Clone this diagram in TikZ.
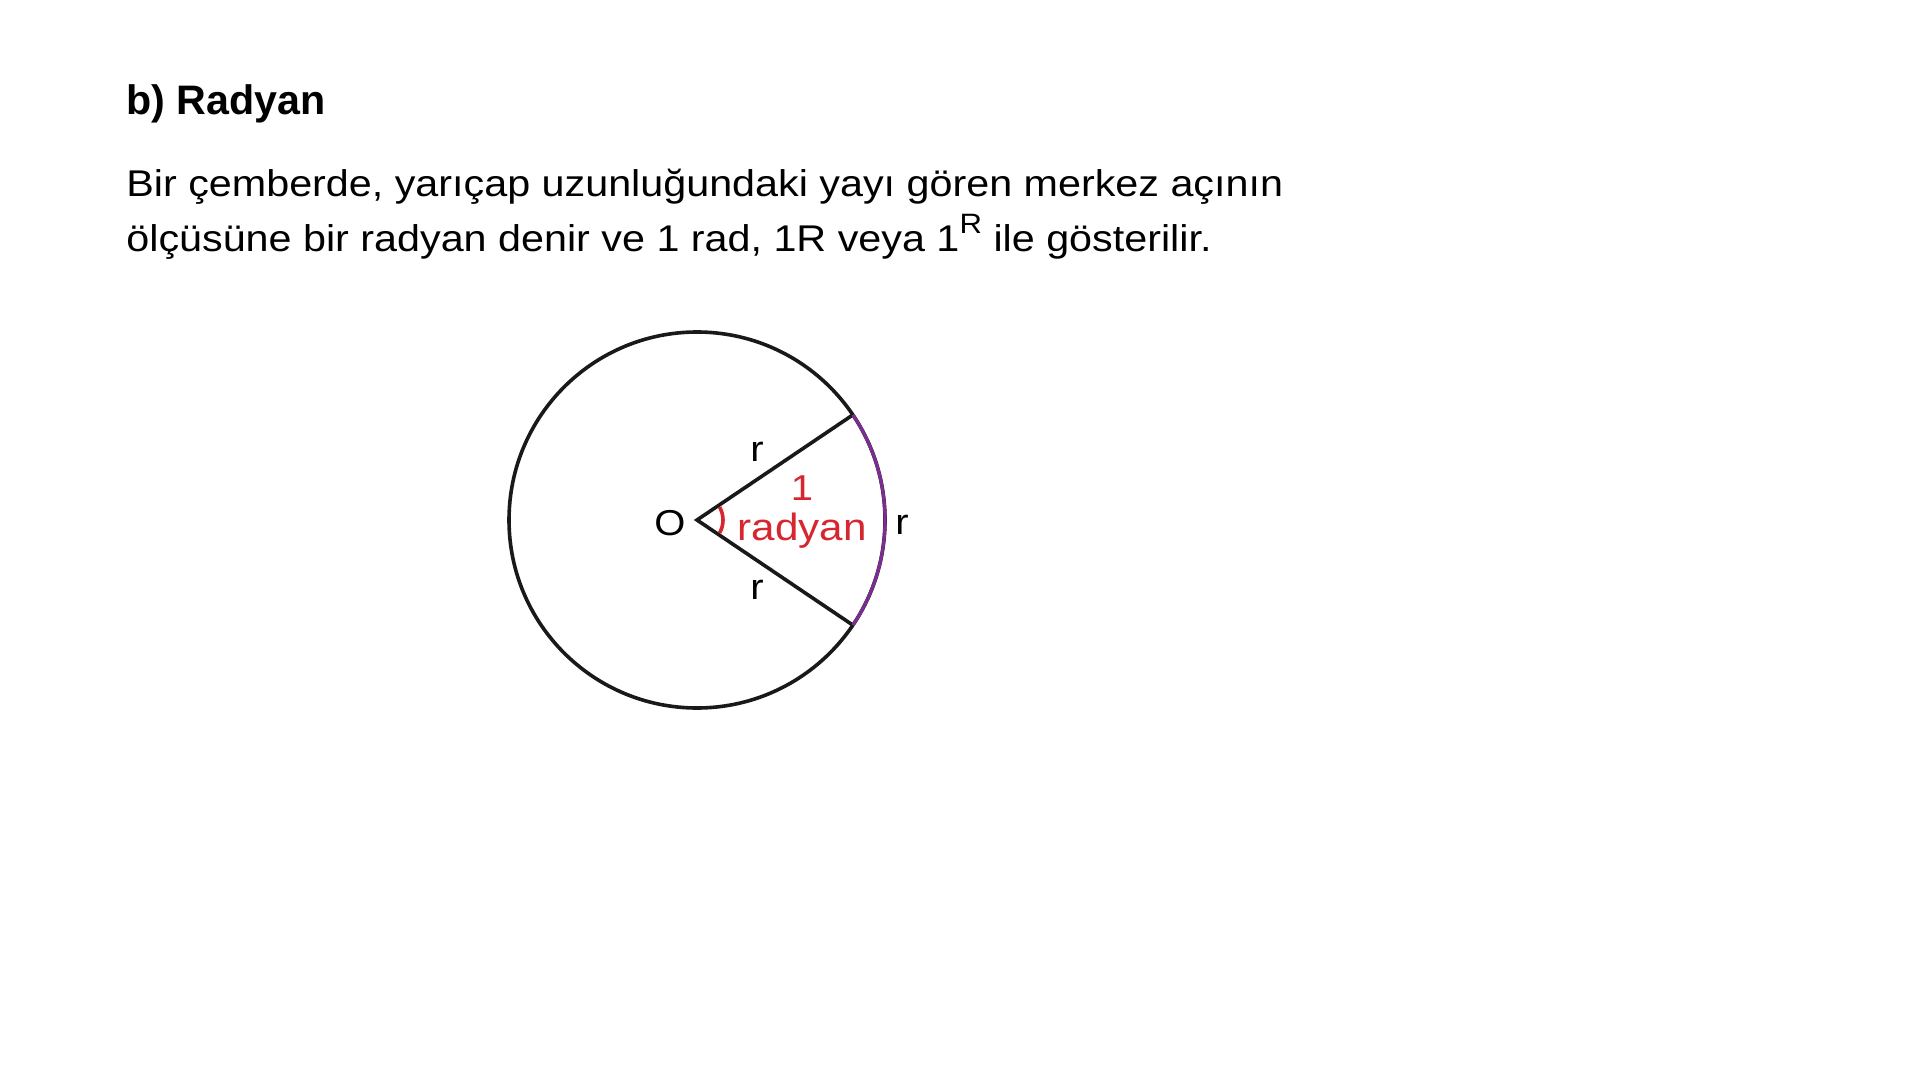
\documentclass[tikz,border=0pt]{standalone}
\usepackage{fontspec}
\setmainfont{Liberation Sans}[FakeStretch=1.11]
\newfontfamily\headfont{Liberation Sans}
\usetikzlibrary{calc}
\definecolor{radred}{RGB}{214,38,48}
\definecolor{arcpurple}{RGB}{125,45,145}
\begin{document}
\begin{tikzpicture}[x=0.5pt,y=-0.5pt]
            \useasboundingbox[fill=white] (0, 0) rectangle (1920, 1080);

            \node[anchor=base west,inner sep=0pt] (p1) at (126, 115) {\headfont\fontsize{20.6}{25}\selectfont\bfseries b) Radyan};
            \node[anchor=base west,inner sep=0pt] (p2) at (126, 197) {\fontsize{18.6}{22}\selectfont Bir çemberde, yarıçap uzunluğundaki yayı gören merkez açının};
            \node[anchor=base west,inner sep=0pt] (p3) at (126, 252) {\fontsize{18.6}{22}\selectfont ölçüsüne bir radyan denir ve 1 rad, 1R veya 1\raisebox{0.5em}{\fontsize{14}{16}\selectfont R} ile gösterilir.};

            \coordinate (o) at (697, 520);
            \coordinate (a) at ($(o)+(-34:188)$);
            \coordinate (b) at ($(o)+(34:188)$);

            \draw[line width=1.8pt,black!90]
                (o) circle[radius=188];
            \draw[line width=1.8pt,black!90]
                (a) -- (o) -- (b);
            \draw[line width=1.6pt,arcpurple]
                (a) arc[start angle=-34, end angle=34, radius=188];
            \draw[line width=1.8pt,radred]
                ($(o)+(-30:26)$) arc[start angle=-30, end angle=30, radius=26];

            \node (p4) at (670, 523) {\fontsize{18}{22}\selectfont O};
            \node (p5) at (757, 452) {\fontsize{18}{22}\selectfont r};
            \node (p6) at (757, 590) {\fontsize{18}{22}\selectfont r};
            \node (p7) at (902, 525) {\fontsize{18}{22}\selectfont r};
            \node[text=radred] (p8) at (802, 488) {\fontsize{18}{22}\selectfont 1};
            \node[text=radred,anchor=base] (p9) at (802, 540) {\fontsize{19}{23}\selectfont radyan};
        \end{tikzpicture}
\end{document}
